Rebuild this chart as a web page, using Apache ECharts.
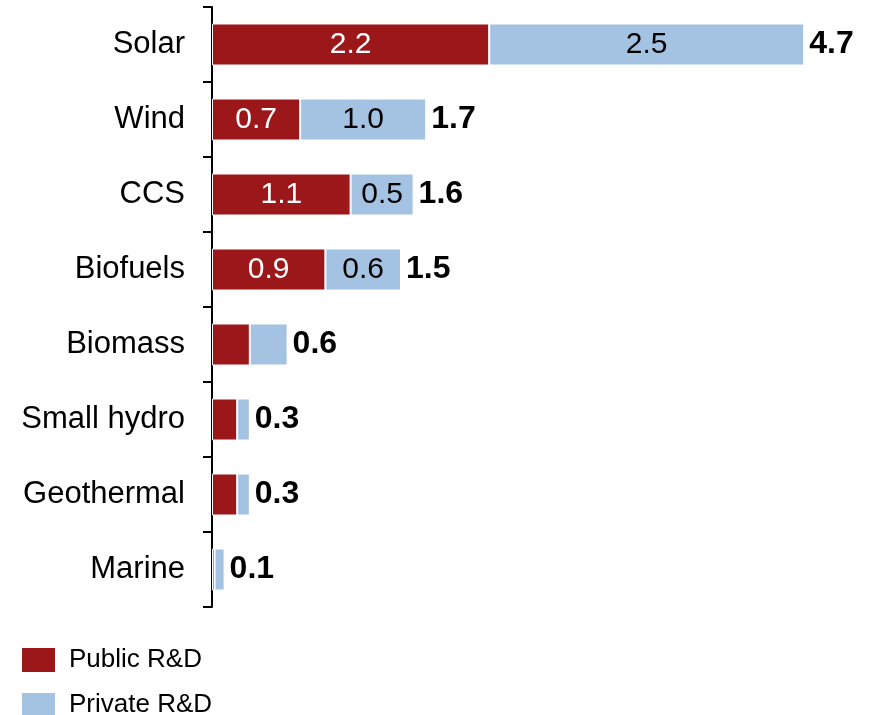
<!DOCTYPE html>
<html>
<head>
<meta charset="utf-8">
<script src="https://cdn.jsdelivr.net/npm/echarts@6/dist/echarts.min.js"></script>
<style>
  html, body { margin: 0; padding: 0; background: #fff; }
  #chart { width: 871px; height: 715px; }
</style>
</head>
<body>
<div id="chart"></div>
<script>
// Technology categories, top to bottom
const categories = ['Solar', 'Wind', 'CCS', 'Biofuels', 'Biomass', 'Small hydro', 'Geothermal', 'Marine'];
// R&D spending split by source
const publicRD  = [2.2, 0.7, 1.1, 0.9, 0.3, 0.2, 0.2, 0.02];
const privateRD = [2.5, 1.0, 0.5, 0.6, 0.3, 0.1, 0.1, 0.08];
// Segment values are printed only on the larger bars
const segmentLabelShown = [true, true, true, true, false, false, false, false];

const totals = categories.map((c, i) => +(publicRD[i] + privateRD[i]).toFixed(1));

const FONT = '"Liberation Sans", Arial, sans-serif';
const RED = '#9b171a';
const BLUE = '#a4c2e1';

function segmentData(values) {
  return values.map((v, i) => ({
    value: v,
    label: { show: segmentLabelShown[i] }
  }));
}

const chart = echarts.init(document.getElementById('chart'), null, { renderer: 'canvas' });

chart.setOption({
  backgroundColor: '#fff',
  animation: false,
  textStyle: { fontFamily: FONT },
  grid: { left: 212, right: 29, top: 7, bottom: 108, containLabel: false },
  xAxis: { type: 'value', min: 0, max: 5, show: false },
  yAxis: {
    type: 'category',
    data: categories,
    inverse: true,
    axisLine: { show: true, lineStyle: { color: '#000', width: 2 } },
    axisTick: { show: true, length: 9, lineStyle: { color: '#000', width: 2 } },
    axisLabel: { fontSize: 31, color: '#000', margin: 27, fontFamily: FONT }
  },
  legend: {
    data: ['Public R&D', 'Private R&D'],
    orient: 'vertical',
    left: 20,
    top: 646,
    height: 200,
    padding: 0,
    icon: 'rect',
    itemWidth: 35,
    itemHeight: 26,
    itemGap: 17,
    textStyle: { fontSize: 26, lineHeight: 26, color: '#000', fontFamily: FONT, padding: [0, 0, 0, 8] }
  },
  series: [
    {
      name: 'Public R&D',
      type: 'bar',
      stack: 'rd',
      barWidth: 42,
      itemStyle: { color: RED, borderColor: '#fff', borderWidth: 1 },
      label: {
        position: 'inside',
        color: '#fff',
        fontSize: 30,
        fontFamily: FONT,
        formatter: p => p.value.toFixed(1)
      },
      data: segmentData(publicRD)
    },
    {
      name: 'Private R&D',
      type: 'bar',
      stack: 'rd',
      barWidth: 42,
      itemStyle: { color: BLUE, borderColor: '#fff', borderWidth: 1 },
      label: {
        position: 'inside',
        color: '#000',
        fontSize: 30,
        fontFamily: FONT,
        formatter: p => p.value.toFixed(1)
      },
      data: segmentData(privateRD)
    },
    {
      // Bold totals printed just past the end of each stacked bar
      name: 'Total',
      type: 'scatter',
      silent: true,
      symbolSize: 0,
      itemStyle: { color: '#000', opacity: 1 },
      label: {
        show: true,
        position: 'right',
        distance: 5,
        color: '#000',
        opacity: 1,
        fontSize: 32,
        fontWeight: 'bold',
        fontFamily: FONT,
        formatter: p => p.value[0].toFixed(1)
      },
      data: totals.map((t, i) => [t, i])
    }
  ]
});
</script>
</body>
</html>
